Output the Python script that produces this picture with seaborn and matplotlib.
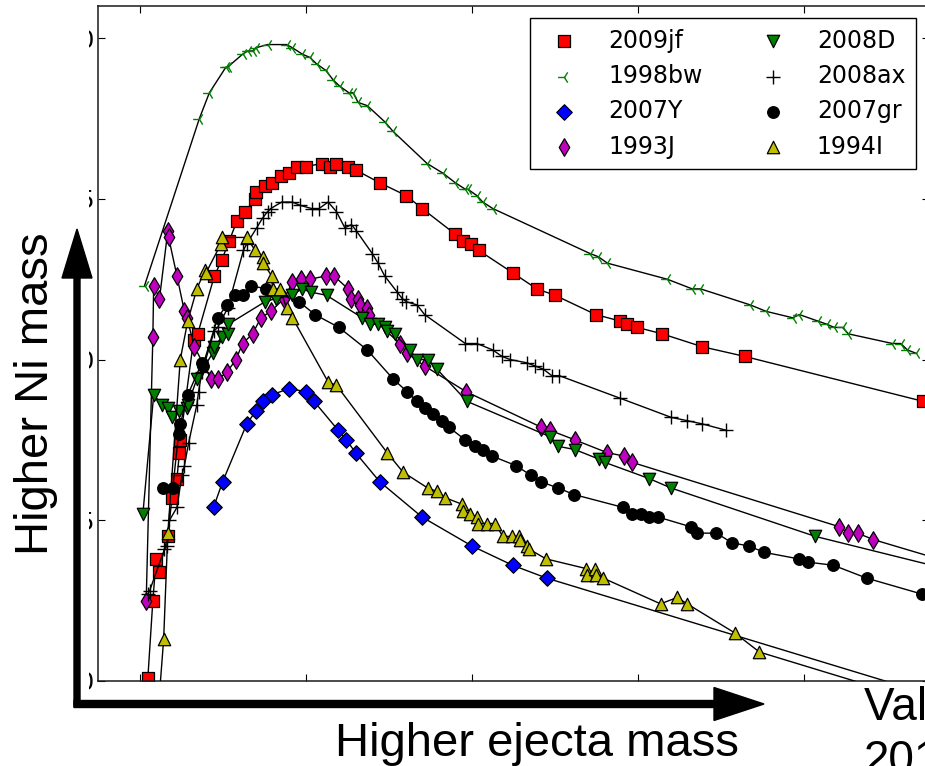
import matplotlib
matplotlib.use("Agg")
import matplotlib.pyplot as plt
import seaborn as sns
from matplotlib.patches import Rectangle, FancyArrow
from matplotlib.transforms import IdentityTransform, Bbox, TransformedBbox

# UBVRI quasi-bolometric light curves: days since explosion vs log10 L
sn2009jf_days = [1.0, 1.6, 2.0, 2.3, 3.4, 3.9, 4.5, 4.8, 4.9, 6.5, 7.0, 9.0, 9.9, 10.8, 11.7, 12.7,
                 13.9, 14.0, 15.1, 15.9, 17.0, 18.0, 18.9, 20.0, 21.9, 22.9, 23.7, 25.1, 26.0, 28.9,
                 32.1, 34.0, 38.0, 38.9, 39.9, 40.8, 44.9, 47.8, 50.0, 54.9, 57.8, 58.6, 59.9, 62.9,
                 67.7, 72.8, 94.3]
sn2009jf_logl = [41.01, 41.25, 41.38, 41.34, 41.45, 41.57, 41.63, 41.71, 41.75, 42.06, 42.08, 42.26,
                 42.31, 42.37, 42.43, 42.46, 42.50, 42.52, 42.54, 42.55, 42.57, 42.58, 42.60, 42.60,
                 42.61, 42.60, 42.61, 42.60, 42.59, 42.55, 42.51, 42.47, 42.39, 42.37, 42.36, 42.34,
                 42.27, 42.22, 42.20, 42.14, 42.12, 42.11, 42.10, 42.08, 42.04, 42.01, 41.87]

sn1998bw_days = [0.6, 7.2, 8.4, 10.4, 10.6, 12.4, 13.0, 13.6, 14.0, 15.4, 17.7, 18.4, 19.6, 20.5,
                 21.3, 22.4, 23.3, 24.1, 25.2, 25.7, 26.3, 27.4, 29.5, 30.5, 34.6, 36.5, 38.0, 39.2,
                 39.5, 40.6, 41.3, 42.5, 54.2, 55.2, 56.3, 63.5, 66.5, 67.5, 73.5, 75.4, 78.6, 79.4,
                 81.6, 82.7, 83.6, 84.6, 85.3, 90.6, 91.6, 92.4, 93.4]
sn1998bw_logl = [42.23, 42.75, 42.83, 42.91, 42.91, 42.95, 42.96, 42.96, 42.97, 42.98, 42.98, 42.97,
                 42.95, 42.94, 42.92, 42.90, 42.87, 42.85, 42.83, 42.83, 42.80, 42.79, 42.74, 42.71,
                 42.61, 42.58, 42.55, 42.53, 42.53, 42.51, 42.49, 42.47, 42.33, 42.32, 42.30, 42.25,
                 42.22, 42.22, 42.17, 42.15, 42.13, 42.14, 42.12, 42.11, 42.10, 42.10, 42.08, 42.05,
                 42.05, 42.03, 42.02]

sn2007Y_days = [8.9, 10.0, 12.9, 14.0, 14.9, 15.9, 18.0, 20.0, 21.0, 23.9, 24.9, 26.0, 28.9, 34.0,
                40.0, 44.9, 49.0, 105.0]
sn2007Y_logl = [41.54, 41.62, 41.80, 41.84, 41.87, 41.89, 41.91, 41.90, 41.87, 41.78, 41.75, 41.71,
                41.62, 41.51, 41.42, 41.36, 41.32, 40.88]

sn1993J_days = [0.8, 1.6, 1.7, 2.4, 3.4, 3.5, 4.5, 5.4, 5.7, 6.6, 8.6, 9.5, 10.5, 11.6, 12.4, 13.6,
                14.6, 15.8, 17.4, 18.4, 19.4, 20.5, 22.4, 23.4, 25.1, 25.5, 26.3, 26.5, 27.4, 27.6,
                31.3, 32.2, 34.3, 39.3, 48.3, 49.4, 52.4, 56.3, 58.3, 59.3, 84.2, 85.3, 86.4, 88.3,
                100.0]
sn1993J_logl = [41.25, 42.07, 42.23, 42.19, 42.40, 42.38, 42.26, 42.15, 42.13, 42.04, 41.94, 41.94,
                41.96, 42.00, 42.05, 42.08, 42.13, 42.15, 42.19, 42.24, 42.25, 42.25, 42.26, 42.26,
                42.22, 42.19, 42.19, 42.17, 42.16, 42.14, 42.05, 42.02, 41.98, 41.90, 41.79, 41.78,
                41.75, 41.71, 41.70, 41.68, 41.48, 41.46, 41.46, 41.44, 41.35]

sn2008D_days = [0.4, 1.7, 2.7, 3.4, 3.9, 4.8, 5.7, 5.8, 6.9, 8.8, 9.0, 9.9, 10.6, 10.7, 15.1, 16.4,
                18.4, 19.5, 20.6, 22.5, 26.8, 27.7, 28.7, 29.5, 29.8, 30.7, 32.5, 33.4, 34.7, 35.8,
                39.4, 49.4, 50.4, 52.4, 55.3, 56.0, 61.3, 64.0, 81.3, 100.0]
sn2008D_logl = [41.52, 41.89, 41.86, 41.85, 41.82, 41.84, 41.85, 41.86, 41.94, 42.02, 42.04, 42.07,
                42.08, 42.11, 42.18, 42.19, 42.20, 42.22, 42.21, 42.20, 42.13, 42.11, 42.11, 42.10,
                42.09, 42.08, 42.03, 42.00, 42.00, 41.97, 41.87, 41.76, 41.73, 41.72, 41.69, 41.68,
                41.63, 41.60, 41.45, 41.33]

sn2008ax_days = [1.0, 1.2, 3.0, 3.3, 3.6, 4.5, 5.1, 5.4, 5.9, 6.9, 7.1, 7.5, 9.0, 9.4, 10.6, 12.5,
                 12.9, 14.1, 14.8, 15.4, 15.8, 17.1, 18.4, 19.3, 20.7, 21.6, 22.7, 23.7, 24.7, 25.5,
                 26.1, 28.0, 28.7, 29.5, 31.0, 31.6, 32.1, 33.4, 34.3, 39.2, 40.6, 42.5, 43.6, 44.6,
                 46.6, 47.6, 48.6, 49.6, 50.5, 57.8, 64.0, 65.9, 67.7, 70.6]
sn2008ax_logl = [41.27, 41.28, 41.41, 41.42, 41.50, 41.54, 41.64, 41.67, 41.74, 41.86, 41.90, 41.96,
                 42.09, 42.10, 42.16, 42.34, 42.36, 42.41, 42.44, 42.46, 42.47, 42.49, 42.49, 42.48,
                 42.47, 42.47, 42.49, 42.46, 42.41, 42.42, 42.40, 42.33, 42.30, 42.26, 42.21, 42.19,
                 42.18, 42.17, 42.14, 42.05, 42.05, 42.03, 42.01, 42.00, 41.99, 41.98, 41.97, 41.95,
                 41.95, 41.88, 41.82, 41.81, 41.80, 41.78]

sn2007gr_days = [2.8, 4.0, 4.7, 4.9, 5.8, 7.5, 7.6, 9.4, 10.5, 11.5, 12.4, 13.4, 15.2, 19.2, 21.1,
                 24.0, 27.4, 30.5, 32.2, 33.4, 34.3, 35.3, 36.4, 37.2, 39.2, 40.4, 41.3, 42.4, 45.3,
                 47.1, 48.3, 50.4, 52.3, 58.2, 59.3, 60.4, 61.3, 62.4, 66.3, 67.1, 69.4, 71.3, 73.3,
                 75.2, 79.3, 80.4, 83.5, 87.5, 94.2]
sn2007gr_logl = [41.60, 41.60, 41.77, 41.80, 41.89, 41.99, 41.98, 42.13, 42.17, 42.20, 42.20, 42.23,
                 42.22, 42.18, 42.14, 42.10, 42.03, 41.94, 41.90, 41.87, 41.85, 41.83, 41.81, 41.79,
                 41.75, 41.73, 41.72, 41.70, 41.67, 41.64, 41.62, 41.60, 41.58, 41.54, 41.52, 41.52,
                 41.51, 41.51, 41.48, 41.46, 41.46, 41.43, 41.42, 41.40, 41.38, 41.37, 41.36, 41.32,
                 41.27]

sn1994I_days = [1.9, 2.9, 3.4, 4.9, 5.8, 6.9, 7.9, 8.0, 9.8, 9.9, 12.9, 13.9, 14.8, 14.9, 15.9, 16.0,
                16.9, 17.7, 18.4, 22.7, 23.7, 29.8, 31.7, 34.7, 35.8, 36.8, 38.8, 38.9, 39.8, 40.6,
                40.7, 41.8, 42.8, 43.7, 44.8, 45.7, 45.8, 46.6, 46.9, 48.9, 53.7, 53.8, 54.8, 54.9,
                55.8, 62.7, 64.7, 65.9, 71.6, 74.6, 100.0]
sn1994I_logl = [40.79, 41.13, 41.46, 42.00, 42.12, 42.22, 42.28, 42.27, 42.36, 42.38, 42.38, 42.34,
                42.32, 42.30, 42.26, 42.22, 42.22, 42.16, 42.13, 41.93, 41.92, 41.71, 41.65, 41.60,
                41.59, 41.57, 41.55, 41.53, 41.52, 41.51, 41.49, 41.49, 41.49, 41.45, 41.45, 41.45,
                41.44, 41.42, 41.41, 41.38, 41.35, 41.33, 41.35, 41.33, 41.32, 41.24, 41.26, 41.24,
                41.15, 41.09, 40.89]

sn_names = ["2009jf", "1998bw", "2007Y", "1993J", "2008D", "2008ax", "2007gr", "1994I"]
x_ticks = [0, 20, 40, 60, 80]
y_ticks = [41.0, 41.5, 42.0, 42.5, 43.0]
y_tick_labels = ["41.0", "41.5", "42.0", "42.5", "43.0"]

BLACK = "#000000"
series = [
    (sn2009jf_days, sn2009jf_logl, "s", "#ff0000", 78),
    (sn1998bw_days, sn1998bw_logl, "3", "#008000", 85),
    (sn2007Y_days, sn2007Y_logl, "D", "#0000ff", 62),
    (sn1993J_days, sn1993J_logl, "d", "#bf00bf", 80),
    (sn2008D_days, sn2008D_logl, "v", "#008000", 80),
    (sn2008ax_days, sn2008ax_logl, "+", BLACK, 90),
    (sn2007gr_days, sn2007gr_logl, "o", BLACK, 70),
    (sn1994I_days, sn1994I_logl, "^", "#bfbf00", 80),
]

sns.set_theme(style="ticks")
plt.rcParams["font.family"] = ["DejaVu Sans"]

W, H = 925, 766
fig = plt.figure(figsize=(W / 100, H / 100), dpi=100)
fig.patch.set_facecolor("white")
ax = fig.add_axes([98 / W, 1 - 681 / H, (929 - 98) / W, (681 - 6) / H])
ax.set_facecolor("white")

for i, (name, (d, l, mk, col, size)) in enumerate(zip(sn_names, series)):
    z = 2 + i * 0.1
    sns.lineplot(x=d, y=l, sort=False, estimator=None, color=BLACK, lw=1.0,
                 ax=ax, zorder=z, legend=False)
    kw = dict(marker=mk, s=size, ax=ax, zorder=z + 0.05, label=name)
    if mk in ("+", "3"):
        kw.update(color=col, linewidth=1.0)
    else:
        kw.update(color=col, edgecolor=BLACK, linewidth=0.9)
    sns.scatterplot(x=d, y=l, **kw)

ax.set_xlim(-5, 95)
ax.set_ylim(41.0, 43.1)
ax.set_xticks(x_ticks)
ax.set_yticks(y_ticks)
ax.set_yticklabels(y_tick_labels)
ax.set_xlabel("")
ax.set_ylabel("")
ax.tick_params(direction="in", length=5, width=0.8, top=True, right=True,
               labelbottom=False, labelsize=17, pad=2, colors=BLACK)
for sp in ax.spines.values():
    sp.set_visible(True)
    sp.set_linewidth(1.1)
    sp.set_color("#1a1a1a")

leg = ax.legend(loc="upper right", bbox_to_anchor=(916 / W, 1 - 18 / H),
                bbox_transform=fig.transFigure, ncol=2, fontsize=17, frameon=True,
                fancybox=False, edgecolor=BLACK, framealpha=1, borderpad=0.45,
                labelspacing=0.48, handlelength=2.0, handletextpad=0.85,
                columnspacing=2.0, scatterpoints=1, borderaxespad=0)
leg.get_frame().set_linewidth(1.0)
for t in leg.get_texts():
    t.set_color(BLACK)

px = IdentityTransform()

# only the right edge of each y tick label stays visible next to the spine
strip = TransformedBbox(Bbox([[89, 0], [120, H]]), px)
for tick in ax.yaxis.get_major_ticks():
    tick.label1.set_clip_box(strip)
    tick.label1.set_clip_on(True)

fig.add_artist(Rectangle((0, 0), 89, H, transform=px, facecolor="white",
                         edgecolor="none", zorder=3))
fig.add_artist(FancyArrow(77, H - 707, 0, 707 - 229, width=6, head_width=30,
                          head_length=49, length_includes_head=True,
                          transform=px, color=BLACK, zorder=4))
fig.add_artist(FancyArrow(74, H - 704, 764 - 74, 0, width=7, head_width=33,
                          head_length=50, length_includes_head=True,
                          transform=px, color=BLACK, zorder=4))

afont = dict(family="Liberation Sans", color=BLACK, zorder=5, transform=px)
fig.text(48, H - 394, "Higher Ni mass", rotation=90, rotation_mode="anchor",
         ha="center", va="baseline", fontsize=34, **afont)
fig.text(335, H - 756, "Higher ejecta mass", ha="left", va="baseline",
         fontsize=34, **afont)
fig.text(864, H - 720, "Valenti et al.", ha="left", va="baseline", fontsize=33, **afont)
fig.text(864, H - 773, "2011", ha="left", va="baseline", fontsize=33, **afont)

fig.savefig("out.png", dpi=100, facecolor="white")
